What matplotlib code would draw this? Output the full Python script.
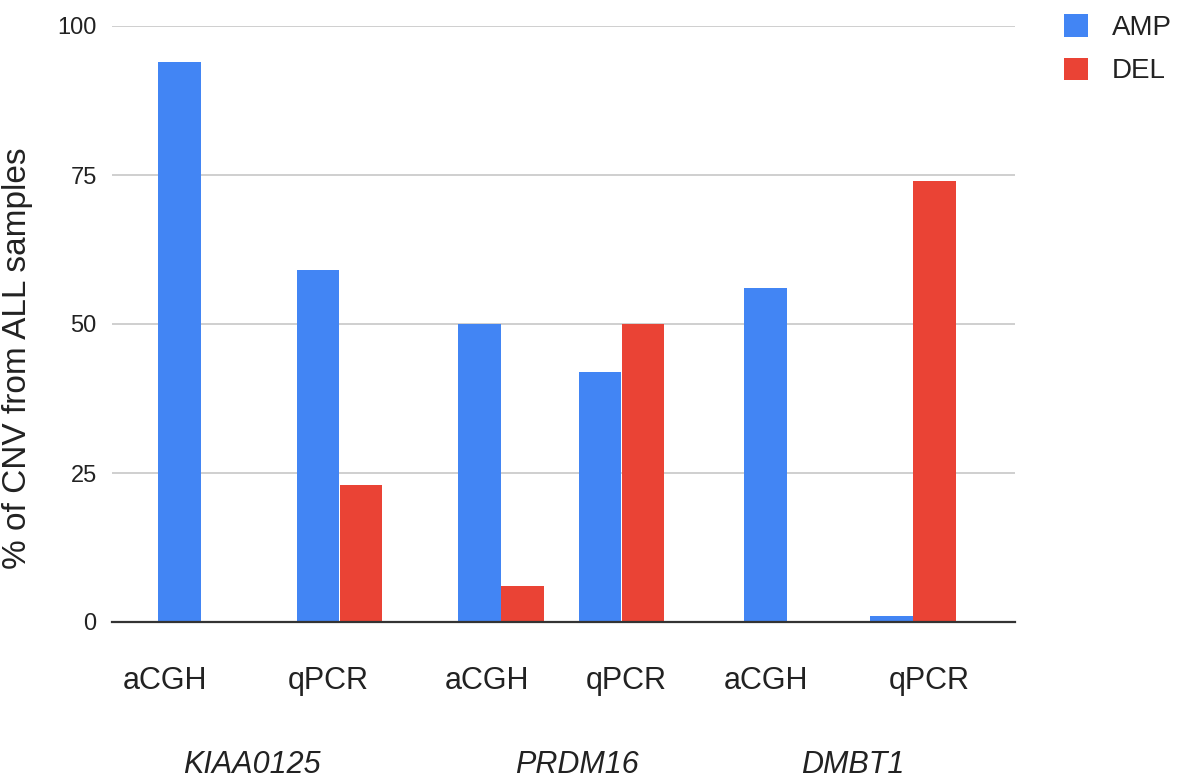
import matplotlib
matplotlib.use("Agg")
import matplotlib.pyplot as plt
from matplotlib.patches import Patch

plt.rcParams['font.family'] = ['Liberation Sans', 'DejaVu Sans']

# ---- data ----
genes = ["KIAA0125", "PRDM16", "DMBT1"]
methods = ["aCGH", "qPCR", "aCGH", "qPCR", "aCGH", "qPCR"]
amp = [94, 59, 50, 42, 56, 1]
dele = [0, 23, 6, 50, 0, 74]
series_names = ["AMP", "DEL"]
yticks = [0, 25, 50, 75, 100]

# ---- layout (positions in axis units, axis spans 0..6) ----
pair_pos = [0.591, 1.512, 2.585, 3.385, 4.485, 5.322]
method_label_pos = [0.352, 1.435, 2.492, 3.415, 4.346, 5.429]
gene_label_pos = [0.930, 3.090, 4.924]
bar_w = 0.286

BLUE = "#4285F4"
RED = "#EA4335"
TXT = "#222222"

W, H = 1181, 783
fig = plt.figure(figsize=(W / 100, H / 100), dpi=100)
ax = fig.add_axes([112 / W, 1 - 622 / H, (1015 - 112) / W, (622 - 26) / H])

xa = [p - bar_w / 2 for p in pair_pos]
xd = [p + bar_w / 2 for p in pair_pos]
ax.bar(xa, amp, width=bar_w * 0.98, color=BLUE, zorder=3, label=series_names[0])
ax.bar(xd, dele, width=bar_w * 0.98, color=RED, zorder=3, label=series_names[1])

ax.set_xlim(0, 6)
ax.set_ylim(0, 100)
ax.set_yticks(yticks)
ax.set_yticklabels([str(t) for t in yticks], fontsize=17, color=TXT)
ax.tick_params(axis='y', length=0, pad=11)
ax.yaxis.grid(True, color="#cccccc", linewidth=1.3, zorder=0)
ax.set_axisbelow(True)

ax.set_xticks(method_label_pos)
ax.set_xticklabels(methods, fontsize=22, color=TXT)
ax.tick_params(axis='x', length=0, pad=32)

for s in ["top", "right", "left"]:
    ax.spines[s].set_visible(False)
ax.spines["bottom"].set_color("#333333")
ax.spines["bottom"].set_linewidth(1.6)
ax.spines["bottom"].set_zorder(4)

trans = ax.get_xaxis_transform()
for g, p in zip(genes, gene_label_pos):
    ax.text(p, -(765 - 622) / (622 - 26), g, transform=trans, ha="center",
            va="center", fontsize=22, style="italic", color=TXT)

ax.set_ylabel("% of CNV from ALL samples", fontsize=24, color=TXT)
ax.yaxis.set_label_coords(-(112 - 33) / (1015 - 112), (622 - 358) / (622 - 26))

handles = [Patch(facecolor=BLUE, edgecolor="none"), Patch(facecolor=RED, edgecolor="none")]
fig.legend(handles, series_names, loc="upper left",
           bbox_to_anchor=(1053 / W, 1 - 3 / H), frameon=False, fontsize=20,
           handlelength=0.87, handleheight=0.87, handletextpad=0.85,
           labelspacing=0.6, labelcolor=TXT, borderaxespad=0)

fig.savefig("out.png", dpi=100, facecolor="white")
